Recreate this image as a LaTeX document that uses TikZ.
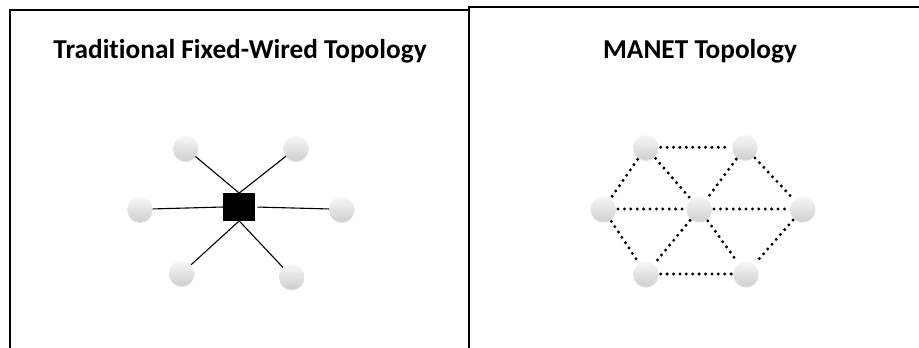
\documentclass[tikz,border=0pt]{standalone}
\usepackage{fontspec}
\setmainfont{Carlito}[Ligatures={NoCommon}]
\usetikzlibrary{shadows}
\begin{document}
\begin{tikzpicture}[x=1pt,y=-1pt,
  frame/.style={line width=2pt,line join=miter},
  title/.style={font=\bfseries\fontsize{27.3}{32}\selectfont,anchor=base,inner sep=0pt},
  host/.style={circle,minimum size=25pt,inner sep=0pt,top color=gray!6,bottom color=gray!38,
    drop shadow={opacity=0.25,shadow xshift=0pt,shadow yshift=-1.2pt}},
  hub/.style={rectangle,fill=black,minimum width=32pt,minimum height=27.5pt,inner sep=0pt},
  wire/.style={line width=1.1pt,black},
  radio/.style={line width=3.3pt,line cap=round,dash pattern=on 0pt off 6.4pt,shorten <=2pt,shorten >=2pt}]
\useasboundingbox (0,0) rectangle (919,348);
\fill[white] (0,0) rectangle (919,348);
% frames
\draw[frame] (10,349) -- (10,10) -- (468.5,10);
\draw[frame] (468.5,349) -- (468.5,6.5) -- (920,6.5);
% titles
\node[title] (t1) at (240,58.5) {Traditional Fixed-Wired Topology};
\node[title] (t2) at (700,58.5) {MANET Topology};
% left topology
\node[hub] (sq) at (239.2,207) {};
\node[host] (a1) at (185.7,148.3) {};
\node[host] (a2) at (296,148.3) {};
\node[host] (a3) at (140,209.3) {};
\node[host] (a4) at (341.7,209.3) {};
\node[host] (a5) at (181.7,273.3) {};
\node[host] (a6) at (291.7,276.7) {};
\draw[wire] (a1) -- (sq.north);
\draw[wire] (a2) -- (sq.north);
\draw[wire] (a3) -- (sq.west);
\draw[wire,shorten <=2pt] (sq.east) -- (a4);
\draw[wire] (sq.south) -- (a5);
\draw[wire] (sq.south) -- (a6);
% right topology
\node[host] (b1) at (646,147.3) {};
\node[host] (b2) at (745,147.3) {};
\node[host] (b3) at (603.3,209) {};
\node[host] (b4) at (699.3,209) {};
\node[host] (b5) at (802.7,209) {};
\node[host] (b6) at (646,274) {};
\node[host] (b7) at (746,274) {};
\draw[radio] (b1) -- (b2);
\draw[radio] (b1) -- (b3);
\draw[radio] (b1) -- (b4);
\draw[radio] (b2) -- (b4);
\draw[radio] (b2) -- (b5);
\draw[radio] (b3) -- (b4);
\draw[radio] (b4) -- (b5);
\draw[radio] (b3) -- (b6);
\draw[radio] (b4) -- (b6);
\draw[radio] (b4) -- (b7);
\draw[radio] (b6) -- (b7);
\draw[radio] (b5) -- (b7);
\end{tikzpicture}
\end{document}
